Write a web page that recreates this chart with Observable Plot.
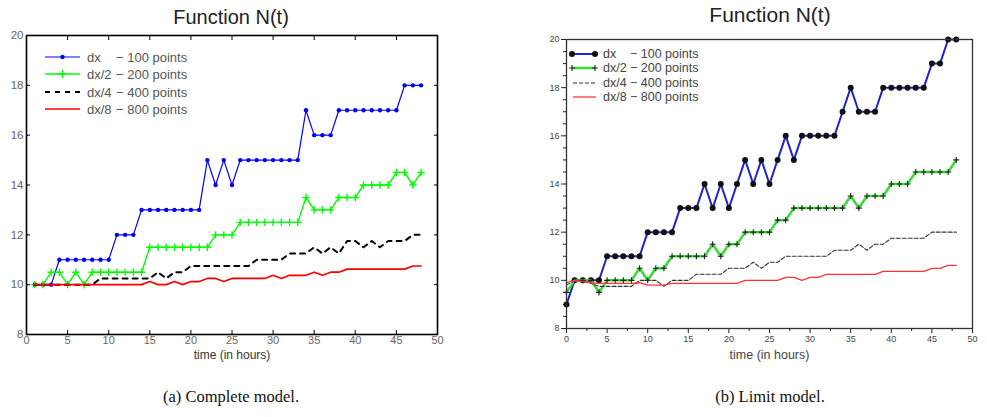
<!DOCTYPE html>
<html><head><meta charset="utf-8">
<script src="https://cdn.jsdelivr.net/npm/d3@7"></script>
<script src="https://cdn.jsdelivr.net/npm/@observablehq/plot@0.6"></script>
<style>
html,body{margin:0;padding:0;background:#fff}
body{width:987px;height:417px;overflow:hidden;position:relative;font-family:"Liberation Sans",Arial,sans-serif}
.abs{position:absolute}
.title{text-align:center;width:300px;color:#222;line-height:24px;white-space:nowrap}
.cap{font-family:"Liberation Serif","Times New Roman",serif;font-size:16.5px;color:#111;text-align:center;width:300px;line-height:20px;white-space:nowrap}
</style></head><body>
<div class="abs title" style="left:81px;top:5px;font-size:20px">Function N(t)</div>
<div class="abs title" style="left:620px;top:3px;font-size:21px">Function N(t)</div>
<div id="panelA" class="abs" style="left:0;top:28px"></div>
<div id="panelB" class="abs" style="left:520px;top:28px"></div>
<div class="abs cap" style="left:81px;top:387px">(a) Complete model.</div>
<div class="abs cap" style="left:620px;top:387px">(b) Limit model.</div>
<script>
// ---------- data ----------
const seriesNames = ["dx", "dx/2", "dx/4", "dx/8"];
const seriesPoints = ["\u2212 100 points", "\u2212 200 points", "\u2212 400 points", "\u2212 800 points"];
const xLabel = "time (in hours)";
const xTicks = [0, 5, 10, 15, 20, 25, 30, 35, 40, 45, 50];
const yTicks = [8, 10, 12, 14, 16, 18, 20];

// (a) Complete model
const tA = [1,2,3,4,5,6,7,8,9,10,11,12,13,14,15,16,17,18,19,20,21,22,23,24,25,26,27,28,29,30,31,32,33,34,35,36,37,38,39,40,41,42,43,44,45,46,47,48];
const blueA = [10,10,10, 11,11,11,11,11,11,11, 12,12,12, 13,13,13,13,13,13,13,13, 15,14,15,14, 15,15,15,15,15,15,15,15, 17, 16,16,16, 17,17,17,17,17,17,17,17, 18,18,18];
const greenA = [10,10,10.5,10.5,10,10.5,10, 10.5,10.5,10.5,10.5,10.5,10.5,10.5, 11.5,11.5,11.5,11.5,11.5,11.5,11.5,11.5, 12,12,12, 12.5,12.5,12.5,12.5,12.5,12.5,12.5,12.5, 13.5, 13,13,13, 13.5,13.5,13.5, 14,14,14,14, 14.5,14.5, 14, 14.5];
const dashA = [10,10,10,10,10,10,10,10, 10.25,10.25,10.25,10.25,10.25,10.25,10.25, 10.5,10.25,10.5,10.5, 10.75,10.75,10.75,10.75,10.75,10.75,10.75,10.75, 11,11,11,11, 11.25,11.25,11.25, 11.5,11.25,11.5,11.25, 11.75,11.75,11.5,11.75,11.5, 11.75,11.75,11.75, 12,12];
const redA = [10,10,10,10,10,10,10,10,10,10,10,10,10,10, 10.125,10,10,10.125,10,10.125,10.125,10.25,10.25,10.125, 10.25,10.25,10.25,10.25,10.25, 10.375,10.25, 10.375,10.375,10.375, 10.5,10.375,10.5,10.5, 10.625,10.625,10.625,10.625,10.625,10.625,10.625,10.625, 10.75,10.75];

// (b) Limit model
const tB = [0,1,2,3,4,5,6,7,8,9,10,11,12,13,14,15,16,17,18,19,20,21,22,23,24,25,26,27,28,29,30,31,32,33,34,35,36,37,38,39,40,41,42,43,44,45,46,47,48];
const blueB = [9, 10,10,10,10, 11,11,11,11,11, 12,12,12,12, 13,13,13, 14,13,14,13,14,15,14,15,14,15,16,15, 16,16,16,16,16, 17,18, 17,17,17, 18,18,18,18,18,18, 19,19, 20,20];
const greenB = [9.5,10,10,10,9.5, 10,10,10,10, 10.5,10,10.5,10.5, 11,11,11,11,11, 11.5,11,11.5,11.5, 12,12,12,12, 12.5,12.5, 13,13,13,13,13,13,13, 13.5,13, 13.5,13.5,13.5, 14,14,14, 14.5,14.5,14.5,14.5,14.5, 15];
const dashB = [9.8,10,10,9.875,9.75, 9.75,9.75,9.75,9.75, 10,10,10, 9.75, 10,10,10, 10.25,10.25,10.25,10.25, 10.5,10.5,10.5, 10.75,10.5, 10.75,10.75, 11,11,11,11,11,11, 11.25,11.25,11.25, 11.5,11.25, 11.5,11.5, 11.75,11.75,11.75,11.75,11.75, 12,12,12,12];
const redB = [9.9,10,9.95,9.9, 9.875,9.875,9.875,9.875,9.875, 9.9, 9.8,9.8,9.8, 9.875,9.875,9.875,9.875,9.875,9.875,9.875,9.875,9.875, 10,10,10,10,10, 10.125,10.125, 10, 10.125,10.125, 10.25,10.25,10.25,10.25,10.25,10.25,10.25, 10.375,10.375,10.375,10.375,10.375,10.375, 10.5,10.5, 10.625,10.625];

const FONT = "Liberation Sans, Arial, sans-serif";

// ---------- panel (a) ----------
const plotA = Plot.plot({
  width: 460, height: 350,
  marginLeft: 26, marginRight: 23, marginTop: 7, marginBottom: 44,
  x: {domain: [0, 50], label: null},
  y: {domain: [8, 20], label: null},
  style: {fontFamily: FONT, background: "white", overflow: "visible"},
  marks: [
    Plot.axisY(yTicks, {anchor: "left", tickSize: -4, tickPadding: 7, stroke: "#000", fill: "#666", fontSize: 11.5, label: null}),
    Plot.axisY(yTicks, {anchor: "right", tickSize: -4, stroke: "#000", fill: "none", label: null}),
    Plot.axisX(xTicks, {anchor: "bottom", tickSize: -4, tickPadding: 6, stroke: "#000", fill: "#666", fontSize: 11, label: null}),
    Plot.axisX(xTicks, {anchor: "top", tickSize: -4, stroke: "#000", fill: "none", label: null}),
    Plot.line(blueA, {x: tA, y: blueA, stroke: "#0000ff", strokeWidth: 1.2}),
    Plot.dot(blueA, {x: tA, y: blueA, r: 2.2, fill: "#0000ff", stroke: "none"}),
    Plot.line(greenA, {x: tA, y: greenA, stroke: "#00ff00", strokeWidth: 1.4}),
    Plot.dot(greenA, {x: tA, y: greenA, symbol: "plus", r: 2.5, stroke: "#00ff00", strokeWidth: 1.4, fill: "none"}),
    Plot.line(dashA, {x: tA, y: dashA, stroke: "#000", strokeWidth: 2, strokeDasharray: "5,5"}),
    Plot.line(redA, {x: tA, y: redA, stroke: "#ff0000", strokeWidth: 1.7}),
    Plot.frame({stroke: "#000", strokeWidth: 1.6}),
    Plot.text([xLabel], {frameAnchor: "bottom", dy: 24, text: d => d, fontSize: 12, fill: "#333"})
  ]
});
document.getElementById("panelA").appendChild(plotA);

// legend (a)
{
  const svg = d3.select(plotA);
  const g = svg.append("g").attr("font-family", FONT).attr("font-size", 13).attr("text-anchor", "start");
  const rows = [29, 46, 64, 81];
  const cols = ["#0000ff", "#00ff00", "#000", "#ff0000"];
  rows.forEach((y, i) => {
    const line = g.append("line").attr("x1", 45).attr("x2", 80).attr("y1", y).attr("y2", y).attr("stroke", cols[i]);
    if (i === 0) { line.attr("stroke-width", 1.2); g.append("circle").attr("cx", 62.5).attr("cy", y).attr("r", 2.2).attr("fill", cols[i]); }
    if (i === 1) { line.attr("stroke-width", 1.4); g.append("path").attr("d", `M${58.5},${y}h8M${62.5},${y-4}v8`).attr("stroke", cols[i]).attr("stroke-width", 1.4); }
    if (i === 2) line.attr("stroke-width", 2).attr("stroke-dasharray", "5,5");
    if (i === 3) line.attr("stroke-width", 1.7);
    g.append("text").attr("x", 87).attr("y", y).attr("dy", "0.35em").attr("fill", "#555").attr("text-anchor", "start").text(seriesNames[i]);
    g.append("text").attr("x", 116).attr("y", y).attr("dy", "0.35em").attr("fill", "#555").attr("text-anchor", "start").text(seriesPoints[i]);
  });
}

// ---------- panel (b) ----------
const minorY = d3.range(8, 20.01, 0.5).filter(v => v % 2 !== 0);
const minorX = d3.range(0, 50.01, 2.5).filter(v => v % 5 !== 0);
const plotB = Plot.plot({
  width: 467, height: 350,
  marginLeft: 46, marginRight: 15, marginTop: 11, marginBottom: 50,
  x: {domain: [0, 50], label: null},
  y: {domain: [8, 20], label: null},
  style: {fontFamily: FONT, background: "white", overflow: "visible"},
  marks: [
    Plot.axisY(minorY, {anchor: "left", tickSize: 3, stroke: "#222", fill: "none", label: null}),
    Plot.axisY(yTicks, {anchor: "left", tickSize: 5, tickPadding: 2, stroke: "#222", fill: "#444", fontSize: 9, label: null}),
    Plot.axisX(minorX, {anchor: "bottom", tickSize: 3, stroke: "#222", fill: "none", label: null}),
    Plot.axisX(xTicks, {anchor: "bottom", tickSize: 5, tickPadding: 2, stroke: "#222", fill: "#444", fontSize: 9, label: null}),
    Plot.line(blueB, {x: tB, y: blueB, stroke: "#2222cc", strokeWidth: 2}),
    Plot.dot(blueB, {x: tB, y: blueB, r: 3, fill: "#111", stroke: "none"}),
    Plot.line(greenB, {x: tB, y: greenB, stroke: "#33dd33", strokeWidth: 2.5}),
    Plot.dot(greenB, {x: tB, y: greenB, symbol: "plus", r: 2.1, stroke: "#222", strokeWidth: 1.1, fill: "none"}),
    Plot.line(dashB, {x: tB, y: dashB, stroke: "#333", strokeWidth: 1.1, strokeDasharray: "4,2"}),
    Plot.line(redB, {x: tB, y: redB, stroke: "#ff3333", strokeWidth: 1.3}),
    Plot.frame({stroke: "#333", strokeWidth: 1.3}),
    Plot.text([xLabel], {frameAnchor: "bottom", dy: 30, text: d => d, fontSize: 12.5, fill: "#444"})
  ]
});
document.getElementById("panelB").appendChild(plotB);

// legend (b)
{
  const svg = d3.select(plotB);
  const g = svg.append("g").attr("font-family", FONT).attr("font-size", 12.5).attr("text-anchor", "start");
  const rows = [26, 40, 55, 69];
  rows.forEach((y, i) => {
    if (i === 0) {
      g.append("line").attr("x1", 52).attr("x2", 75).attr("y1", y).attr("y2", y).attr("stroke", "#2222cc").attr("stroke-width", 2);
      [52, 75].forEach(x => g.append("circle").attr("cx", x).attr("cy", y).attr("r", 3).attr("fill", "#111"));
    }
    if (i === 1) {
      g.append("line").attr("x1", 52).attr("x2", 75).attr("y1", y).attr("y2", y).attr("stroke", "#33dd33").attr("stroke-width", 2.5);
      [52, 75].forEach(x => g.append("path").attr("d", `M${x-3},${y}h6M${x},${y-3}v6`).attr("stroke", "#222").attr("stroke-width", 1.1));
    }
    if (i === 2) g.append("line").attr("x1", 53).attr("x2", 76).attr("y1", y).attr("y2", y).attr("stroke", "#333").attr("stroke-width", 1.1).attr("stroke-dasharray", "4,2");
    if (i === 3) g.append("line").attr("x1", 53).attr("x2", 76).attr("y1", y).attr("y2", y).attr("stroke", "#ff3333").attr("stroke-width", 1.3);
    g.append("text").attr("x", 83).attr("y", y).attr("dy", "0.35em").attr("fill", "#444").attr("text-anchor", "start").text(seriesNames[i]);
    g.append("text").attr("x", 110).attr("y", y).attr("dy", "0.35em").attr("fill", "#444").attr("text-anchor", "start").text(seriesPoints[i]);
  });
}
</script>
</body></html>
